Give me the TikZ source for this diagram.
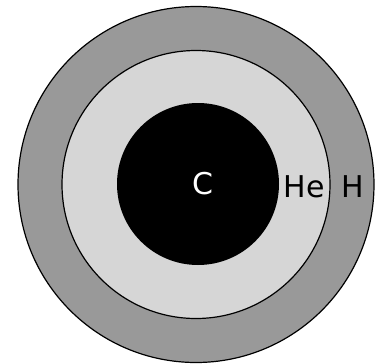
\documentclass[tikz,border=0pt]{standalone}
\usepackage{fontspec}
\setmainfont{DejaVu Sans}
\definecolor{outergray}{HTML}{999999}
\definecolor{midgray}{HTML}{D6D6D6}
\begin{document}
\begin{tikzpicture}[x=1bp,y=-1bp,
  ring/.style={draw=black,line width=1.2bp},
  lbl/.style={inner sep=0pt,anchor=base,font=\fontsize{30bp}{30bp}\selectfont}]
\useasboundingbox (0,0) rectangle (377,364);
\fill[white] (0,0) rectangle (377,364);
\coordinate (ctr) at (196,184.5);
\draw[ring,fill=outergray] (ctr) circle[radius=178];
\draw[ring,fill=midgray] (ctr) circle[radius=134];
\fill[black] (198,184) circle[radius=81];
\node[lbl,text=white] (c) at (203,194) {C};
\node[lbl] (he) at (304,197) {He};
\node[lbl] (h) at (353,197) {H};
\end{tikzpicture}
\end{document}
